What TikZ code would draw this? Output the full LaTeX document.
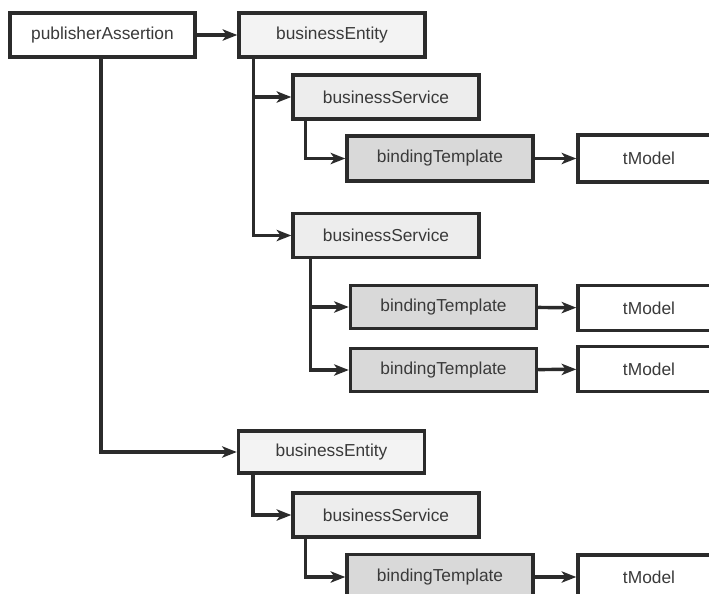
\documentclass[tikz,border=0pt]{standalone}
\usepackage{fontspec}
\setmainfont{Liberation Sans}
\usetikzlibrary{arrows.meta}
\definecolor{ink}{HTML}{2B2B2B}
\definecolor{txt}{HTML}{3A3A3A}
\definecolor{entityfill}{HTML}{F3F3F3}
\definecolor{servicefill}{HTML}{EDEDED}
\definecolor{bindfill}{HTML}{D9D9D9}
\tikzset{
  box/.style={draw=ink, line width=2.6pt, minimum width=139.5pt, minimum height=33pt,
    inner sep=0pt, text=txt, font=\fontsize{13}{15}\selectfont},
  plainbox/.style={box, fill=white},
  modelbox/.style={box, fill=white, minimum width=106.5pt},
  entitybox/.style={box, fill=entityfill},
  servicebox/.style={box, fill=servicefill},
  bindbox/.style={box, fill=bindfill, minimum height=34pt},
  link/.style={draw=ink, line width=2.6pt, -{Stealth[length=11pt,width=8.5pt,inset=3pt]}},
}
\begin{document}
\begin{tikzpicture}[x=0.75pt, y=-0.75pt]
  \useasboundingbox (0,0) rectangle (709,593);
  \clip (0,0) rectangle (709,593);
  \fill[white] (0,0) rectangle (709,593);

  % root
  \node[plainbox, minimum width=138.75pt] (pa) at (102.5,35) {publisherAssertion};

  % first entity
  \node[entitybox] (be1) at (332,35) {businessEntity};
  \node[servicebox] (bs1) at (386,97) {businessService};
  \node[bindbox] (bt1) at (440,158.5) {bindingTemplate};
  \node[modelbox, minimum height=35pt] (tm1) at (649,158.5) {tModel};
  \node[servicebox] (bs2) at (386,235.5) {businessService};
  \node[bindbox, minimum height=32pt] (bt2) at (443.5,307) {bindingTemplate};
  \node[modelbox, minimum height=34pt] (tm2) at (649,308) {tModel};
  \node[bindbox, minimum height=32pt] (bt3) at (443.5,370) {bindingTemplate};
  \node[modelbox, minimum height=34pt] (tm3) at (649,369) {tModel};

  % second entity
  \node[entitybox, minimum height=31.5pt] (be2) at (331.5,452) {businessEntity};
  \node[servicebox] (bs3) at (386,515) {businessService};
  \node[bindbox] (bt4) at (440,577) {bindingTemplate};
  \node[modelbox] (tm4) at (649,577) {tModel};

  % connectors
  \draw[link] (pa) -- (be1);
  \draw[link] ([shift={(-1.5,0)}]pa.south) |- (be2);

  \draw[link] ([shift={(16,0)}]be1.south west) |- (bs1);
  \draw[link] ([shift={(16,0)}]be1.south west) |- (bs2);
  \draw[link] ([shift={(14,0)}]bs1.south west) |- (bt1);
  \draw[link] (bt1) -- (tm1);
  \draw[link] ([shift={(19,0)}]bs2.south west) |- (bt2);
  \draw[link] ([shift={(19,0)}]bs2.south west) |- (bt3);
  \draw[link] (bt2) -- (tm2);
  \draw[link] (bt3) -- (tm3);

  \draw[link] ([shift={(16,0)}]be2.south west) |- (bs3);
  \draw[link] ([shift={(14,0)}]bs3.south west) |- (bt4);
  \draw[link] (bt4) -- (tm4);
\end{tikzpicture}
\end{document}
